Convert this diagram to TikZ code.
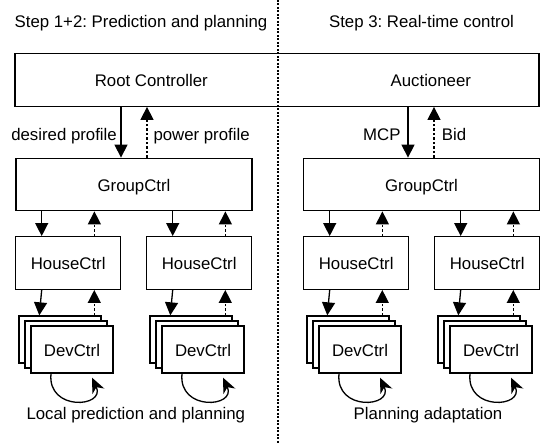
\documentclass[tikz,border=0pt]{standalone}
\usepackage{fontspec}
\setmainfont{Liberation Sans}
\usetikzlibrary{arrows.meta,calc}
\frenchspacing
\newcommand\hgroup[3]{%
  \node[cbox, minimum width=105pt, minimum height=52.6pt] (h#1) at (#2,263) {HouseCtrl};
  \coordinate (ha#1) at ($(h#1.north)+(-26.5,0)$);
  \coordinate (hb#1) at ($(h#1.north)+(26.2,0)$);
  \draw[arrdown] (ha#1 |- #3.south) -- (ha#1);
  \draw[arrup] (hb#1) -- (hb#1 |- #3.south);
  \node[cbox, minimum width=82pt, minimum height=47pt] (db#1) at ($(h#1.center)+(-8.2,76.5)$) {};
  \node[cbox, minimum width=82pt, minimum height=47pt] (dm#1) at ($(h#1.center)+(-2.2,81.5)$) {};
  \node[cbox, minimum width=82pt, minimum height=47pt] (df#1) at ($(h#1.center)+(3.8,86.5)$) {DevCtrl};
  \coordinate (hc#1) at ($(h#1.south)+(-26.5,0)$);
  \coordinate (dc#1) at ($(h#1.south)+(-28.9,0)$);
  \coordinate (hd#1) at ($(h#1.south)+(26.1,0)$);
  \draw[arrdown] (hc#1) -- (dc#1 |- db#1.north);
  \draw[arrup] (hd#1 |- db#1.north) -- (hd#1);
  \coordinate (ls#1) at ($(df#1.south)+(-21,0)$);
  \coordinate (le#1) at ($(df#1.south)+(20,4)$);
  \draw[selfloop] (ls#1) .. controls +(-4,38) and +(14,30) .. (le#1);
}
\begin{document}
\begin{tikzpicture}[x=1pt,y=-1pt,
  every node/.style={font=\fontsize{16.8}{20}\selectfont, inner sep=0pt},
  cbox/.style={draw, line width=1.3pt, fill=white, text height=13.5pt, text depth=0pt},
  txt/.style={anchor=base},
  arrdown/.style={line width=1.3pt, -{Triangle[length=13pt,width=13pt]}},
  arrup/.style={line width=1.3pt, dash pattern=on 2.5pt off 2pt, -{Triangle[length=13pt,width=13pt]}},
  selfloop/.style={line width=1.3pt, -{Stealth[length=15pt,width=13pt,inset=4.5pt]}},
  divider/.style={line width=1.3pt, dash pattern=on 2pt off 1.5pt}]
\useasboundingbox (0,0) rectangle (541,443);

% divider
\coordinate (dtop) at (278,0);
\coordinate (dbot) at (278,443);
\draw[divider] (dtop) -- (dbot);

% titles
\node[txt] (titleL) at (141,27.5) {Step 1+2: Prediction and planning};
\node[txt] (titleR) at (421.5,27.5) {Step 3: Real-time control};

% root box
\node[cbox, fill=none, minimum width=524pt, minimum height=53pt] (root) at (277,79.75) {};
\node[txt] (rootT) at (151.3,86.5) {Root Controller};
\node[txt] (auctT) at (430.8,86.5) {Auctioneer};

% group controllers
\node[cbox, minimum width=236pt, minimum height=52.5pt] (grpL) at (134,184.5) {GroupCtrl};
\node[cbox, minimum width=236pt, minimum height=52.5pt] (grpR) at (421.5,184.5) {GroupCtrl};

% root <-> group arrows
\coordinate (ra) at ($(grpL.north)+(-13,0)$);
\coordinate (rb) at ($(grpL.north)+(13,0)$);
\draw[arrdown] (ra |- root.south) -- (ra);
\draw[arrup] (rb) -- (rb |- root.south);
\coordinate (rc) at ($(grpR.north)+(-13.5,0)$);
\coordinate (rd) at ($(grpR.north)+(12.5,0)$);
\draw[arrdown] (rc |- root.south) -- (rc);
\draw[arrup] (rd) -- (rd |- root.south);

\node[anchor=base east] (lblDes) at (117,140.5) {desired profile};
\node[anchor=base west] (lblPow) at (153.3,140.5) {power profile};
\node[anchor=base east] (lblMCP) at (400.7,140.5) {MCP};
\node[anchor=base west] (lblBid) at (441.7,140.5) {Bid};

% houses and device stacks
\hgroup{1}{68.2}{grpL}
\hgroup{2}{199.2}{grpL}
\hgroup{3}{356.2}{grpR}
\hgroup{4}{487.2}{grpR}

% bottom captions
\node[txt] (capL) at (135.8,420) {Local prediction and planning};
\node[txt] (capR) at (428,420) {Planning adaptation};
\end{tikzpicture}
\end{document}
